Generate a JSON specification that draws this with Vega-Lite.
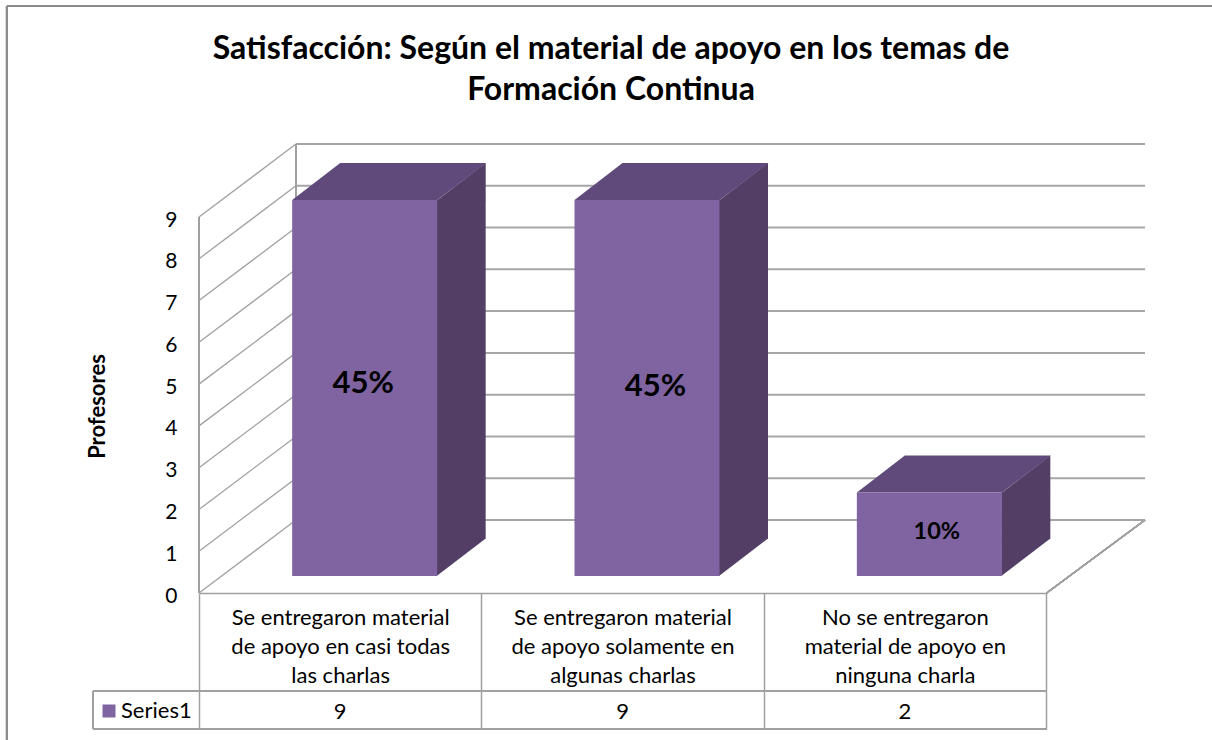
{
"$schema":"https://vega.github.io/schema/vega-lite/v6.json",
"width":847,"height":376,
"autosize":{"type":"none"},
"padding":{"left":199,"top":217,"right":166,"bottom":147},
"background":"white",
"title":{"text":["Satisfacción: Según el material de apoyo en los temas de","Formación Continua"],"font":"Lato","fontSize":32,"fontWeight":"bold","color":"#000000","anchor":"middle","frame":"group","dx":-11.5,"offset":-102,"lineHeight":41},
"config":{"view":{"stroke":null},"font":"Lato"},
"datasets":{
"barras":[
{"categoria":"Se entregaron material\nde apoyo en casi todas\nlas charlas","profesores":9,"porcentaje":"45%","serie":"Series1"},
{"categoria":"Se entregaron material\nde apoyo solamente en\nalgunas charlas","profesores":9,"porcentaje":"45%","serie":"Series1"},
{"categoria":"No se entregaron\nmaterial de apoyo en\nninguna charla","profesores":2,"porcentaje":"10%","serie":"Series1"}],
"niveles":[{"nivel":0},{"nivel":1},{"nivel":2},{"nivel":3},{"nivel":4},{"nivel":5},{"nivel":6},{"nivel":7},{"nivel":8},{"nivel":9}]
},
"resolve":{"scale":{"x":"independent"}},
"layer":[
{"data":{"name":"niveles"},
 "layer":[
  {"mark":{"type":"rule","stroke":"#a6a6a6","strokeWidth":2,"yOffset":-73,"y2Offset":-73,"clip":false},
   "encoding":{"x":{"datum":10.25,"type":"quantitative","scale":{"domain":[0,100],"range":[0,946]},"axis":null},"x2":{"datum":100},
    "y":{"field":"nivel","type":"quantitative","scale":{"domain":[0,9],"nice":false},
      "axis":{"values":[0,1,2,3,4,5,6,7,8,9],"title":"Profesores","titleFont":"Lato","titleFontWeight":"bold","titleFontSize":22,"titleColor":"#000000","titleX":-90,"titleY":189,"domain":false,"ticks":false,"grid":false,"labelPadding":22,"labelOffset":3,"labelFont":"Lato","labelFontSize":21,"labelColor":"#000000"}}}},
  {"mark":{"type":"rule","stroke":"#a0a0a0","strokeWidth":1.3,"y2Offset":-73,"clip":false},
   "encoding":{"x":{"datum":0,"type":"quantitative"},"x2":{"datum":10.25},"y":{"field":"nivel","type":"quantitative"},"y2":{"field":"nivel"}}},
  {"mark":{"type":"rule","stroke":"#a0a0a0","strokeWidth":1.5,"clip":false},
   "encoding":{"x":{"datum":0,"type":"quantitative"},"y":{"datum":0,"type":"quantitative"},"y2":{"datum":9}}},
  {"mark":{"type":"rule","stroke":"#a0a0a0","strokeWidth":1.3,"yOffset":-73,"y2Offset":-73,"clip":false},
   "encoding":{"x":{"datum":10.25,"type":"quantitative"},"y":{"datum":0,"type":"quantitative"},"y2":{"datum":9}}},
  {"mark":{"type":"rule","stroke":"#a0a0a0","strokeWidth":1.3,"y2Offset":-73,"clip":false},
   "encoding":{"x":{"datum":89.6,"type":"quantitative"},"x2":{"datum":100},"y":{"datum":0,"type":"quantitative"},"y2":{"datum":0}}},
  {"mark":{"type":"rule","stroke":"#8c8c8c","strokeWidth":2,"clip":false},
   "encoding":{"x":{"datum":-20.3,"type":"quantitative"},"y":{"datum":14.05,"type":"quantitative"},"y2":{"datum":-3.6}}},
  {"mark":{"type":"rule","stroke":"#8c8c8c","strokeWidth":2,"clip":false},
   "encoding":{"x":{"datum":-20.3,"type":"quantitative"},"x2":{"datum":107.2},"y":{"datum":14.05,"type":"quantitative"}}},
  {"mark":{"type":"rule","stroke":"#a0a0a0","strokeWidth":1.5,"yOffset":98,"clip":false},
   "encoding":{"x":{"datum":-11.2,"type":"quantitative"},"x2":{"datum":89.6},"y":{"datum":0,"type":"quantitative"}}},
  {"mark":{"type":"rule","stroke":"#a0a0a0","strokeWidth":1.5,"yOffset":136,"clip":false},
   "encoding":{"x":{"datum":-11.2,"type":"quantitative"},"x2":{"datum":89.6},"y":{"datum":0,"type":"quantitative"}}},
  {"mark":{"type":"rule","stroke":"#a0a0a0","strokeWidth":1.5,"yOffset":98,"y2Offset":136,"clip":false},
   "encoding":{"x":{"datum":-11.2,"type":"quantitative"},"y":{"datum":0,"type":"quantitative"},"y2":{"datum":0}}}
 ]},
{"data":{"name":"barras"},
 "encoding":{"x":{"field":"categoria","type":"nominal","sort":null,"scale":{"paddingInner":0,"paddingOuter":0},
   "axis":{"orient":"bottom","title":null,"domainColor":"#a0a0a0","domainWidth":1.6,"tickColor":"#a0a0a0","tickWidth":1.5,"tickBand":"extent","tickSize":136,"labelAngle":0,"labelAlign":"center","labelBaseline":"top","labelPadding":-122,"labelLimit":400,"labelOverlap":false,"labelBound":false,"labelFont":"Lato","labelFontSize":22,"labelColor":"#000000","labelLineHeight":29,"labelExpr":"split(datum.label,'\\n')"}}},
 "layer":[
  {"mark":{"type":"bar","size":49,"fill":"#533f66","xOffset":121,"yOffset":-17,"y2Offset":-54,"clip":false},
   "encoding":{"y":{"field":"profesores","type":"quantitative"},"y2":{"datum":0}}},
  {"mark":{"type":"point","shape":"M-24.5,0.5 L24.5,-37 L24.5,0.5 Z","size":4,"filled":true,"fill":"#533f66","opacity":1,"strokeWidth":0,"xOffset":121,"yOffset":-17,"clip":false},
   "encoding":{"y":{"field":"profesores","type":"quantitative"}}},
  {"mark":{"type":"point","shape":"M-24.5,0 L-24.5,-37.5 L24.5,-37.5 Z","size":4,"filled":true,"fill":"#533f66","opacity":1,"strokeWidth":0,"xOffset":121,"yOffset":-17,"clip":false},
   "encoding":{"y":{"datum":0,"type":"quantitative"}}},
  {"mark":{"type":"point","shape":"M-72.5,0 L72.5,0 L121.5,-37 L-24.5,-37 Z","size":4,"filled":true,"fill":"#604a7b","opacity":1,"strokeWidth":0,"xOffset":24.5,"yOffset":-17,"clip":false},
   "encoding":{"y":{"field":"profesores","type":"quantitative"}}},
  {"mark":{"type":"bar","size":145,"xOffset":24.5,"yOffset":-17,"y2Offset":-17,"clip":false},
   "encoding":{"y":{"field":"profesores","type":"quantitative"},"y2":{"datum":0},
    "color":{"field":"serie","type":"nominal","scale":{"range":["#8064a2"]},
      "legend":{"orient":"none","legendX":-101,"legendY":483,"title":null,"padding":0,"symbolType":"square","symbolSize":169,"symbolStrokeWidth":0,"labelFont":"Lato","labelFontSize":22,"labelColor":"#000000","labelOffset":1}}}},
  {"transform":[{"filter":"indexof(datum.categoria,'casi')>=0"},{"calculate":"datum.profesores/2","as":"medio"}],
   "mark":{"type":"text","font":"Lato","fontWeight":"bold","fontSize":31,"color":"#000000","xOffset":23,"yOffset":-21,"clip":false},
   "encoding":{"y":{"field":"medio","type":"quantitative"},"text":{"field":"porcentaje"}}},
  {"transform":[{"filter":"indexof(datum.categoria,'solamente')>=0"},{"calculate":"datum.profesores/2","as":"medio"}],
   "mark":{"type":"text","font":"Lato","fontWeight":"bold","fontSize":31,"color":"#000000","xOffset":33,"yOffset":-18,"clip":false},
   "encoding":{"y":{"field":"medio","type":"quantitative"},"text":{"field":"porcentaje"}}},
  {"transform":[{"filter":"indexof(datum.categoria,'ninguna')>=0"},{"calculate":"datum.profesores/2","as":"medio"}],
   "mark":{"type":"text","font":"Lato","fontWeight":"bold","fontSize":23.5,"color":"#000000","xOffset":32,"yOffset":-19,"clip":false},
   "encoding":{"y":{"field":"medio","type":"quantitative"},"text":{"field":"porcentaje"}}},
  {"mark":{"type":"text","font":"Lato","fontSize":22,"color":"#000000","yOffset":119,"clip":false},
   "encoding":{"y":{"datum":0,"type":"quantitative"},"text":{"field":"profesores"}}}
 ]}
]
}
